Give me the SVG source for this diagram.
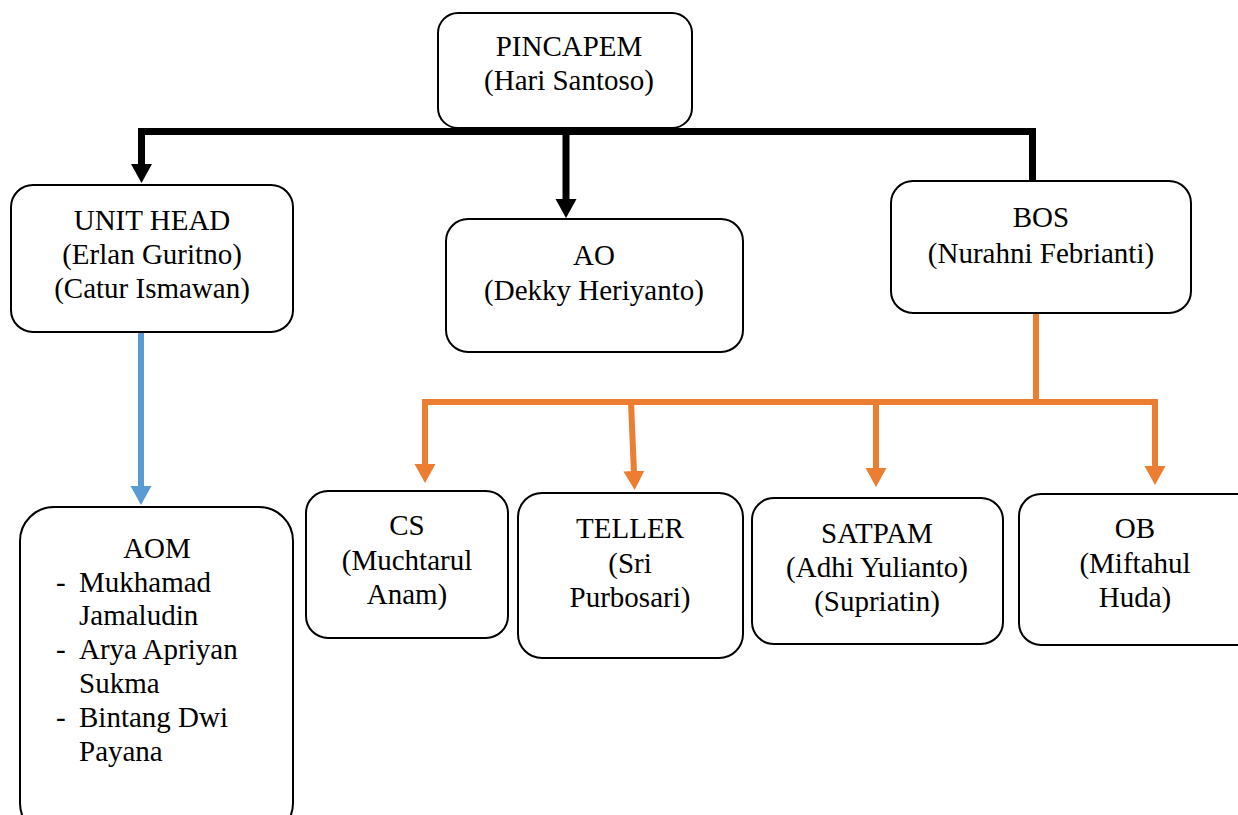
<svg xmlns="http://www.w3.org/2000/svg" width="1238" height="815" viewBox="0 0 1238 815">
<style>
.box{fill:#fff;stroke:#000;stroke-width:2}
text{font-family:"Liberation Serif","Times New Roman",serif;font-size:29px;fill:#000}
.c{text-anchor:middle}
.blk{stroke:#000;stroke-width:7;fill:none}
.org{stroke:#ED7D31;stroke-width:6;fill:none}
.blu{stroke:#5B9BD5;stroke-width:6;fill:none}
</style>
<defs>
<marker id="ab" markerUnits="userSpaceOnUse" markerWidth="20" markerHeight="22" refX="2" refY="10.5" orient="auto" viewBox="0 0 20 21"><path d="M0,0 L19,10.5 L0,21 z" fill="#000"/></marker>
<marker id="ao" markerUnits="userSpaceOnUse" markerWidth="20" markerHeight="22" refX="2" refY="10.5" orient="auto" viewBox="0 0 20 21"><path d="M0,0 L19,10.5 L0,21 z" fill="#ED7D31"/></marker>
<marker id="al" markerUnits="userSpaceOnUse" markerWidth="20" markerHeight="22" refX="2" refY="10.5" orient="auto" viewBox="0 0 20 21"><path d="M0,0 L19,10.5 L0,21 z" fill="#5B9BD5"/></marker>
</defs>
<g id="connectors">
<path class="blk" d="M138,131.5 H1036"/>
<path class="blk" d="M141.5,131 V166" marker-end="url(#ab)"/>
<path class="blk" d="M566,131 V201" marker-end="url(#ab)"/>
<path class="blk" d="M1032.5,131 V181"/>
<path class="blu" d="M141,332 V488" marker-end="url(#al)"/>
<path class="org" d="M1036,313 V402"/>
<path class="org" d="M422,402 H1158"/>
<path class="org" d="M425,402 V466" marker-end="url(#ao)"/>
<path class="org" d="M631,402 L634,473" marker-end="url(#ao)"/>
<path class="org" d="M876,402 V470" marker-end="url(#ao)"/>
<path class="org" d="M1155,399 V468" marker-end="url(#ao)"/>
</g>
<g id="pincapem">
<rect class="box" x="438" y="13" width="254" height="115" rx="20"/>
<text class="c" x="569" y="56">PINCAPEM</text>
<text class="c" x="569" y="90">(Hari Santoso)</text>
</g>
<g id="unithead">
<rect class="box" x="11" y="185" width="282" height="147" rx="22"/>
<text class="c" x="152" y="230">UNIT HEAD</text>
<text class="c" x="152" y="264">(Erlan Guritno)</text>
<text class="c" x="152" y="298">(Catur Ismawan)</text>
</g>
<g id="ao-node">
<rect class="box" x="446" y="219" width="297" height="133" rx="22"/>
<text class="c" x="594" y="265">AO</text>
<text class="c" x="594" y="300">(Dekky Heriyanto)</text>
</g>
<g id="bos">
<rect class="box" x="891" y="181" width="300" height="132" rx="22"/>
<text class="c" x="1041" y="227">BOS</text>
<text class="c" x="1041" y="263">(Nurahni Febrianti)</text>
</g>
<g id="aom">
<rect class="box" x="20" y="507" width="273" height="330" rx="34"/>
<text class="c" x="157" y="558">AOM</text>
<text x="56" y="592">-</text><text x="79" y="592">Mukhamad</text>
<text x="79" y="625">Jamaludin</text>
<text x="56" y="659">-</text><text x="79" y="659">Arya Apriyan</text>
<text x="79" y="693">Sukma</text>
<text x="56" y="727">-</text><text x="79" y="727">Bintang Dwi</text>
<text x="79" y="761">Payana</text>
</g>
<g id="cs">
<rect class="box" x="306" y="491" width="202" height="147" rx="22"/>
<text class="c" x="407" y="535">CS</text>
<text class="c" x="407" y="570">(Muchtarul</text>
<text class="c" x="407" y="604">Anam)</text>
</g>
<g id="teller">
<rect class="box" x="518" y="493" width="225" height="165" rx="24"/>
<text class="c" x="630" y="538">TELLER</text>
<text class="c" x="630" y="573">(Sri</text>
<text class="c" x="630" y="607">Purbosari)</text>
</g>
<g id="satpam">
<rect class="box" x="752" y="498" width="251" height="146" rx="22"/>
<text class="c" x="877" y="543">SATPAM</text>
<text class="c" x="877" y="577">(Adhi Yulianto)</text>
<text class="c" x="877" y="611">(Supriatin)</text>
</g>
<g id="ob">
<rect class="box" x="1019" y="494" width="240" height="151" rx="22"/>
<text class="c" x="1135" y="538">OB</text>
<text class="c" x="1135" y="573">(Miftahul</text>
<text class="c" x="1135" y="607">Huda)</text>
</g>
</svg>
